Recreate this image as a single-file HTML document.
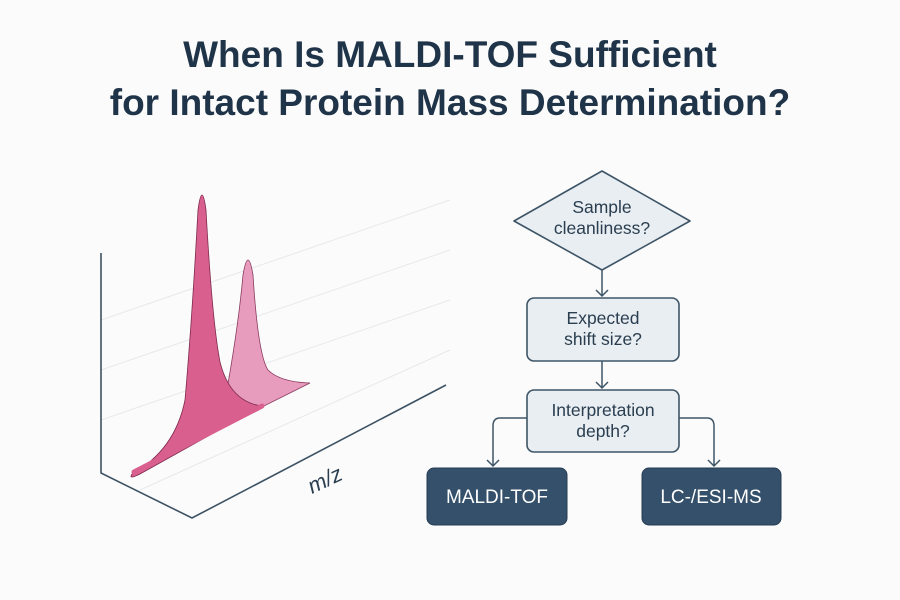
<!DOCTYPE html>
<html><head><meta charset="utf-8"><style>
body{margin:0;background:#fbfbfb;width:900px;height:600px;overflow:hidden;font-family:"Liberation Sans",sans-serif}
.t{position:absolute;left:0;width:900px;text-align:center;color:#1f3448;font-size:37px;font-weight:bold;letter-spacing:0px}
</style></head><body>
<div class="t" style="top:34px">When Is MALDI-TOF Sufficient</div>
<div class="t" style="top:82px">for Intact Protein Mass Determination?</div>
<svg width="900" height="600" style="position:absolute;left:0;top:0">
<g stroke="#e6e9ec" stroke-width="1">
<line x1="101" y1="320" x2="450" y2="200"/>
<line x1="101" y1="370" x2="450" y2="250"/>
<line x1="101" y1="420" x2="450" y2="300"/>
<line x1="140" y1="490" x2="450" y2="350"/>
</g>
<polyline points="101,253 101,473 192,518 446,385" fill="none" stroke="#3d5263" stroke-width="1.6"/>
<path d="M225,400 Q238,330 243,275 Q248,245 253,275 Q258,355 268,370 Q280,382 310,383 L262,407 Z" fill="#e79bbd" stroke="#8a3a5c" stroke-width="0.8"/>
<path d="M132,474 Q175,450 185,400 Q192,320 198,210 Q202,180 206,210 Q212,320 220,362 Q230,402 262,406 L140,474 Q128,480 132,474 Z" fill="#d9608e" stroke="#7e2a4d" stroke-width="0.8"/>
<line x1="134" y1="472" x2="262" y2="406" stroke="#d9608e" stroke-width="5" stroke-linecap="round"/>
<text x="312" y="494" transform="rotate(-25 312 494)" font-size="22" font-style="italic" fill="#2a3e50">m/z</text>
<g fill="#e9eef2" stroke="#3e5567" stroke-width="1.6">
<path d="M602,171 L690,221 L602,270 L514,221 Z" stroke-linejoin="round"/>
<rect x="527" y="298" width="152" height="63" rx="7"/>
<rect x="527" y="390" width="152" height="62" rx="7"/>
</g>
<g fill="#34506a" stroke="#263d52" stroke-width="1"><rect x="427" y="468" width="140" height="57" rx="7"/><rect x="642" y="468" width="139" height="57" rx="7"/></g>
<g fill="none" stroke="#3e5567" stroke-width="1.5">
<path d="M602,270 V296 M596,290 L602,296 L608,290"/>
<path d="M602,361 V388 M596,382 L602,388 L608,382"/>
<path d="M527,418 H500 Q493,418 493,426 V466 M487,460 L493,466 L499,460"/>
<path d="M679,418 H707 Q714,418 714,426 V466 M708,460 L714,466 L720,460"/>
</g>
<g font-size="17.5" fill="#2a3e50" text-anchor="middle">
<text x="602" y="213">Sample</text><text x="602" y="234">cleanliness?</text>
<text x="603" y="324">Expected</text><text x="603" y="345">shift size?</text>
<text x="603" y="416">Interpretation</text><text x="603" y="437">depth?</text>
<text x="497" y="503" fill="#fff" font-size="19">MALDI-TOF</text>
<text x="711" y="503" fill="#fff" font-size="19">LC-/ESI-MS</text>
</g>
</svg>
</body></html>
